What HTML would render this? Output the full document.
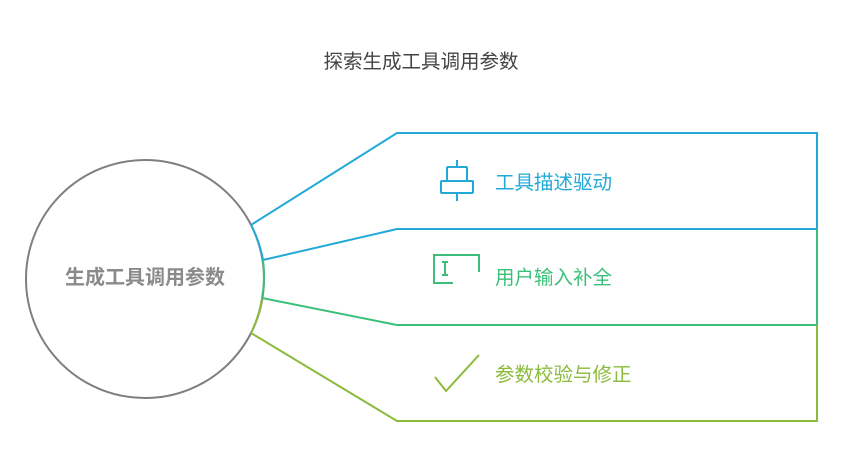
<!DOCTYPE html>
<html><head><meta charset="utf-8"><style>
body{margin:0;background:#fff;width:843px;height:470px;overflow:hidden}
text{font-family:"Liberation Sans","Noto Sans CJK SC",sans-serif}
</style></head><body>
<svg width="843" height="470" viewBox="0 0 843 470">
<text x="421" y="68" text-anchor="middle" font-size="19.5" fill="#444">探索生成工具调用参数</text>
<circle cx="145" cy="279" r="119" fill="none" stroke="#7f7f7f" stroke-width="2"/>
<path d="M251 225 A119 119 0 0 1 263 260" fill="none" stroke="#21a9d8" stroke-width="2"/>
<path d="M263 260 A119 119 0 0 1 262 298" fill="none" stroke="#3cbf7a" stroke-width="2"/>
<path d="M262 298 A119 119 0 0 1 251 333" fill="none" stroke="#8bbb3b" stroke-width="2"/>
<text x="145" y="284" text-anchor="middle" font-size="20" font-weight="bold" fill="#8a8a8a">生成工具调用参数</text>
<polyline points="251,225 397,133 817,133 817,229" fill="none" stroke="#21a9d8" stroke-width="2"/>
<polyline points="263,260 397,229 817,229" fill="none" stroke="#21a9d8" stroke-width="2"/>
<polyline points="262,298 397,325 817,325 817,229" fill="none" stroke="#3cbf7a" stroke-width="2"/>
<polyline points="251,333 397,421 817,421 817,325" fill="none" stroke="#8bbb3b" stroke-width="2"/>
<g stroke="#21a9d8" stroke-width="2" fill="none">
<line x1="457" y1="160" x2="457" y2="167"/>
<line x1="457" y1="193" x2="457" y2="201"/>
<rect x="447" y="167" width="20" height="14" rx="1"/>
<rect x="441" y="181" width="32" height="12" rx="1"/>
</g>
<text x="495" y="189" font-size="19.5" fill="#21a9d8">工具描述驱动</text>
<g stroke="#3cbf7a" stroke-width="2" fill="none">
<polyline points="453,283 434,283 434,255 479,255 479,272"/>
<line x1="445" y1="262" x2="445" y2="275"/><line x1="442" y1="262" x2="448" y2="262"/><line x1="442" y1="275" x2="448" y2="275"/>
</g>
<text x="495" y="284" font-size="19.5" fill="#3cbf7a">用户输入补全</text>
<polyline points="435,377 446,391 479,355" fill="none" stroke="#8bbb3b" stroke-width="2"/>
<text x="495" y="381" font-size="19.5" fill="#8bbb3b">参数校验与修正</text>
</svg>
</body></html>
